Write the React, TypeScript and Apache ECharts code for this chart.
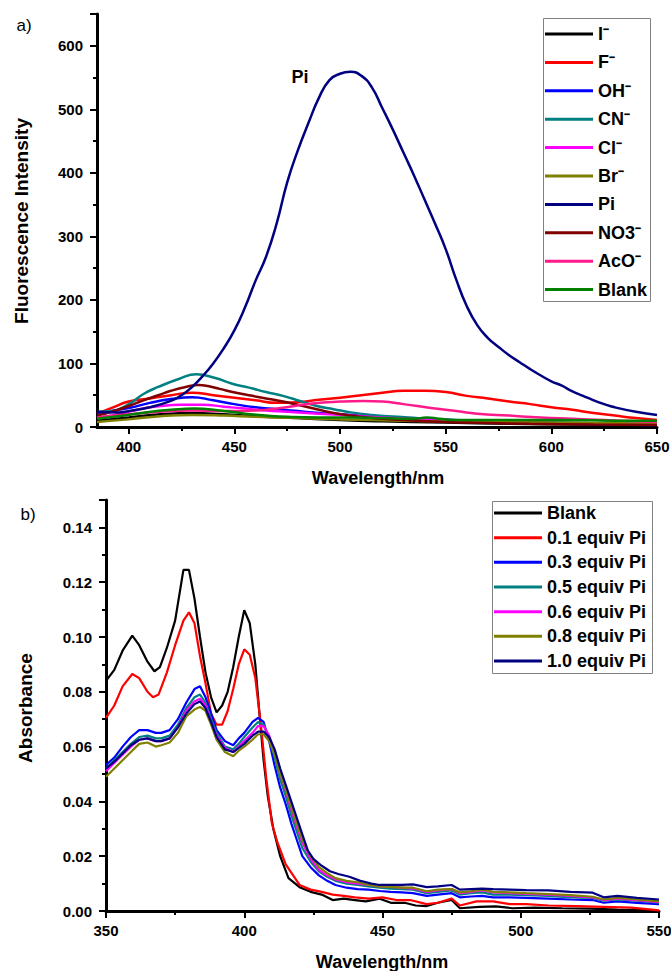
import React, { useEffect, useRef } from 'react';
import * as echarts from 'echarts';

// ---------- (a) Fluorescence data: [wavelength nm, intensity] ----------
const fluoNames = ['I⁻', 'F⁻', 'OH⁻', 'CN⁻', 'Cl⁻', 'Br⁻', 'Pi', 'NO3⁻', 'AcO⁻', 'Blank'];
const fluoColors = ['#000000', '#ff0000', '#0000ff', '#008080', '#ff00ff', '#808000', '#000080', '#800000', '#ff1a8c', '#008000'];

const fluoI = [[385, 10], [400, 15], [415, 20], [430, 22], [445, 20], [460, 17], [480, 14], [500, 11], [520, 9], [550, 7], [580, 5], [610, 4], [650, 3]];
const fluoF = [[385, 21], [392, 30], [400, 40], [410, 45], [420, 50], [430, 54], [440, 50], [450, 46], [460, 42], [470, 38], [480, 39], [490, 43], [500, 46], [510, 50], [520, 54], [530, 57], [540, 57], [550, 55], [560, 49], [570, 45], [580, 40], [590, 36], [600, 31], [610, 27], [620, 22], [630, 18], [640, 14], [650, 11]];
const fluoOH = [[385, 22], [400, 30], [410, 38], [420, 44], [430, 47], [440, 42], [450, 36], [460, 31], [470, 28], [480, 25], [490, 22], [500, 20], [520, 16], [540, 13], [560, 10], [580, 8], [600, 6], [625, 4], [650, 3]];
const fluoCN = [[385, 24], [392, 25], [400, 36], [407, 52], [414, 63], [424, 76], [432, 83], [441, 77], [449, 68], [457, 62], [465, 55], [473, 49], [481, 41], [489, 33], [497, 28], [505, 23], [515, 19], [527, 16], [540, 13], [560, 10], [590, 8], [620, 6], [650, 5]];
const fluoCl = [[385, 14], [395, 20], [405, 28], [415, 33], [425, 35], [435, 35], [445, 32], [455, 29], [465, 26], [475, 24], [490, 21], [505, 18], [520, 15], [540, 12], [560, 10], [590, 7], [620, 5], [650, 4]];
const fluoBr = [[385, 8], [400, 12], [415, 17], [430, 19], [445, 18], [460, 16], [480, 14], [500, 12], [530, 10], [560, 8], [600, 7], [650, 5]];
const fluoPi = [[385, 24], [395, 23], [400, 25], [410, 31], [420, 41], [425, 50], [430, 63], [435, 80], [440, 100], [445, 124], [450, 152], [455, 188], [460, 230], [465, 268], [470, 320], [475, 385], [480, 435], [485, 478], [490, 518], [495, 546], [500, 556], [505, 559], [510, 553], [515, 535], [520, 502], [525, 468], [530, 432], [535, 396], [540, 358], [545, 320], [550, 280], [555, 232], [560, 190], [565, 160], [570, 140], [575, 126], [580, 113], [585, 102], [590, 91], [595, 81], [600, 72], [605, 65], [610, 56], [615, 49], [620, 42], [625, 36], [630, 31], [640, 24], [650, 19]];
const fluoNO3 = [[385, 18], [392, 24], [400, 33], [408, 43], [414, 50], [420, 57], [427, 63], [433, 66], [438, 64], [443, 60], [452, 53], [460, 48], [465, 45], [473, 40], [481, 34], [489, 28], [497, 22], [505, 18], [520, 13], [540, 9], [560, 7], [590, 5], [620, 4], [650, 3]];
const fluoAcO = [[385, 15], [400, 20], [415, 24], [430, 26], [445, 25], [460, 26], [472, 30], [487, 37], [500, 40], [511, 41], [520, 40], [530, 36], [543, 30], [555, 25], [565, 21], [580, 18], [595, 15], [610, 13], [625, 11], [640, 9], [650, 8]];
const fluoBlank = [[385, 13], [395, 17], [408, 23], [420, 27], [431, 29], [443, 26], [455, 21], [465, 18], [475, 16], [490, 15], [503, 15], [520, 14], [535, 13], [541, 15], [547, 13], [555, 11], [580, 11], [606, 11], [630, 10], [650, 10]];
const fluoData = [fluoI, fluoF, fluoOH, fluoCN, fluoCl, fluoBr, fluoPi, fluoNO3, fluoAcO, fluoBlank];

const fluoXTicks = [400, 450, 500, 550, 600, 650];
const fluoXMinorTicks = [425, 475, 525, 575, 625];
const fluoYTicks = [0, 100, 200, 300, 400, 500, 600];

// ---------- (b) Absorbance data: [wavelength nm, absorbance] ----------
const absNames = ['Blank', '0.1 equiv Pi', '0.3 equiv Pi', '0.5 equiv Pi', '0.6 equiv Pi', '0.8 equiv Pi', '1.0 equiv Pi'];
const absColors = ['#000000', '#ff0000', '#0000ff', '#008080', '#ff00ff', '#808000', '#000080'];

const absBlank = [[350, 0.084], [353, 0.088], [356, 0.095], [359.5, 0.1005], [362, 0.097], [365, 0.091], [367.5, 0.0875], [369.5, 0.089], [372, 0.096], [375, 0.106], [378, 0.1245], [380, 0.1245], [382, 0.114], [384, 0.1], [386, 0.087], [388, 0.078], [390, 0.0725], [392, 0.075], [394, 0.08], [396, 0.089], [398, 0.1], [400, 0.1098], [402, 0.105], [404, 0.09], [405.5, 0.072], [407, 0.055], [408.5, 0.042], [410.5, 0.03], [413, 0.02], [416, 0.012], [420, 0.0087], [424, 0.007], [428, 0.006], [432, 0.004], [436, 0.0045], [440, 0.004], [444, 0.0035], [449, 0.0045], [453, 0.003], [458, 0.003], [462, 0.002], [466, 0.0018], [470, 0.003], [475, 0.004], [478, 0.001], [485, 0.0015], [491, 0.0017], [497, 0.001], [505, 0.0012], [515, 0.001], [525, 0.0009], [535, 0.0005], [545, 0.0003], [550, 0.0]];
const abs01 = [[350, 0.0705], [353, 0.075], [356, 0.082], [359.5, 0.0865], [362, 0.085], [365, 0.08], [367, 0.078], [369, 0.079], [372, 0.087], [375, 0.097], [378, 0.106], [380, 0.109], [382, 0.105], [384, 0.093], [386, 0.083], [388, 0.072], [390, 0.068], [392, 0.068], [394, 0.073], [396, 0.081], [398, 0.09], [400, 0.0955], [402, 0.0935], [404, 0.085], [406, 0.068], [408, 0.048], [410, 0.032], [412, 0.025], [415, 0.017], [420, 0.0095], [424, 0.0078], [428, 0.007], [432, 0.006], [436, 0.0055], [440, 0.005], [445, 0.0045], [450, 0.005], [455, 0.004], [460, 0.004], [466, 0.0025], [470, 0.003], [475, 0.0045], [478, 0.002], [484, 0.0035], [490, 0.0035], [496, 0.0025], [502, 0.0025], [510, 0.002], [520, 0.0018], [530, 0.0015], [540, 0.0012], [550, 0.0002]];
const abs03 = [[350, 0.0533], [353, 0.056], [356, 0.06], [359, 0.0635], [362, 0.066], [365, 0.066], [368, 0.065], [370, 0.065], [373, 0.066], [376, 0.07], [379, 0.076], [382, 0.081], [384, 0.082], [386, 0.078], [388, 0.072], [390, 0.066], [393, 0.062], [396, 0.0605], [398, 0.063], [400, 0.065], [403, 0.069], [405, 0.0705], [407, 0.069], [409, 0.062], [411, 0.053], [413, 0.045], [415, 0.039], [417, 0.032], [419, 0.026], [421, 0.02], [424, 0.016], [427, 0.013], [430, 0.011], [433, 0.0095], [437, 0.0085], [441, 0.008], [445, 0.0078], [449, 0.0073], [453, 0.007], [457, 0.0068], [461, 0.0065], [466, 0.0055], [470, 0.006], [475, 0.0065], [478, 0.005], [482, 0.0053], [486, 0.0055], [490, 0.005], [496, 0.005], [502, 0.0048], [510, 0.0045], [518, 0.0042], [526, 0.004], [530, 0.003], [535, 0.0035], [542, 0.003], [550, 0.0025]];
const abs05 = [[350, 0.052], [353, 0.055], [356, 0.058], [359, 0.061], [362, 0.0635], [365, 0.064], [368, 0.063], [370, 0.063], [373, 0.064], [376, 0.068], [379, 0.074], [382, 0.078], [384, 0.079], [386, 0.076], [388, 0.07], [390, 0.065], [393, 0.06], [396, 0.059], [398, 0.061], [400, 0.0635], [403, 0.067], [405, 0.069], [407, 0.068], [409, 0.063], [411, 0.056], [413, 0.048], [415, 0.042], [417, 0.035], [419, 0.029], [421, 0.023], [424, 0.018], [427, 0.0145], [430, 0.0125], [433, 0.011], [437, 0.01], [441, 0.0095], [445, 0.009], [449, 0.0085], [453, 0.0082], [457, 0.008], [461, 0.0078], [466, 0.0065], [470, 0.007], [475, 0.0075], [478, 0.006], [482, 0.0065], [486, 0.0068], [490, 0.006], [496, 0.006], [502, 0.0058], [510, 0.0055], [518, 0.005], [526, 0.0048], [530, 0.0038], [535, 0.0042], [542, 0.0038], [550, 0.003]];
const abs06 = [[350, 0.051], [353, 0.054], [356, 0.057], [359, 0.06], [362, 0.0625], [365, 0.063], [368, 0.062], [370, 0.062], [373, 0.063], [376, 0.067], [379, 0.073], [382, 0.0765], [384, 0.0775], [386, 0.075], [388, 0.069], [390, 0.064], [393, 0.0595], [396, 0.058], [398, 0.06], [400, 0.062], [403, 0.065], [405, 0.0675], [407, 0.0675], [409, 0.064], [411, 0.058], [413, 0.05], [415, 0.044], [417, 0.037], [419, 0.031], [421, 0.025], [424, 0.019], [427, 0.015], [430, 0.013], [433, 0.0115], [437, 0.0105], [441, 0.01], [445, 0.0095], [449, 0.009], [453, 0.0088], [457, 0.0085], [461, 0.0082], [466, 0.007], [470, 0.0075], [475, 0.008], [478, 0.0065], [482, 0.007], [486, 0.0075], [490, 0.0068], [496, 0.0065], [502, 0.0062], [510, 0.006], [518, 0.0055], [526, 0.005], [530, 0.004], [535, 0.0045], [542, 0.004], [550, 0.0032]];
const abs08 = [[350, 0.049], [353, 0.052], [356, 0.055], [359, 0.058], [362, 0.061], [365, 0.0615], [368, 0.06], [370, 0.0605], [373, 0.0615], [376, 0.065], [379, 0.071], [382, 0.0735], [384, 0.0745], [386, 0.073], [388, 0.068], [390, 0.0625], [393, 0.058], [396, 0.0565], [398, 0.0585], [400, 0.06], [403, 0.0625], [405, 0.0645], [407, 0.0645], [409, 0.062], [411, 0.057], [413, 0.05], [415, 0.0445], [417, 0.038], [419, 0.032], [421, 0.026], [424, 0.02], [427, 0.016], [430, 0.0138], [433, 0.012], [437, 0.011], [441, 0.0105], [445, 0.0095], [449, 0.009], [453, 0.0088], [457, 0.0085], [461, 0.0085], [466, 0.0072], [470, 0.0078], [475, 0.008], [478, 0.0068], [482, 0.0072], [486, 0.0078], [490, 0.007], [496, 0.0068], [502, 0.0065], [510, 0.0062], [518, 0.0058], [526, 0.0052], [530, 0.0042], [535, 0.0048], [542, 0.0042], [550, 0.0035]];
const abs10 = [[350, 0.052], [353, 0.0545], [356, 0.0575], [359, 0.0605], [362, 0.0625], [365, 0.063], [368, 0.062], [370, 0.062], [373, 0.063], [376, 0.067], [379, 0.072], [382, 0.0755], [384, 0.0765], [386, 0.074], [388, 0.069], [390, 0.0635], [393, 0.059], [396, 0.058], [398, 0.0595], [400, 0.061], [403, 0.064], [405, 0.0655], [407, 0.0655], [409, 0.0635], [411, 0.059], [413, 0.052], [415, 0.046], [417, 0.04], [419, 0.034], [421, 0.028], [423, 0.022], [425, 0.019], [428, 0.0165], [431, 0.0145], [434, 0.0135], [438, 0.0125], [442, 0.011], [446, 0.01], [449, 0.0095], [453, 0.0095], [457, 0.0095], [461, 0.0097], [466, 0.0087], [470, 0.009], [475, 0.0095], [478, 0.0078], [482, 0.008], [486, 0.0082], [490, 0.008], [496, 0.0078], [502, 0.0076], [510, 0.0075], [518, 0.007], [526, 0.0067], [530, 0.005], [535, 0.0055], [542, 0.0048], [550, 0.0042]];
const absData = [absBlank, abs01, abs03, abs05, abs06, abs08, abs10];

const absXTicks = [350, 400, 450, 500, 550];
const absYTicks = [0, 0.02, 0.04, 0.06, 0.08, 0.1, 0.12, 0.14];

const FONT = '"Liberation Sans", Arial, Helvetica, sans-serif';

export default function App() {
  const ref = useRef<HTMLDivElement>(null);

  useEffect(() => {
    if (!ref.current) return;
    const chart = echarts.init(ref.current, undefined, { renderer: 'svg' });

    const axisLine = { show: true, onZero: false, lineStyle: { color: '#000', width: 3 } };
    const tick = { show: true, length: 7, lineStyle: { color: '#000', width: 2 } };
    const minor = { show: true, splitNumber: 2, length: 4, lineStyle: { color: '#000', width: 2 } };
    const label = { color: '#000', fontSize: 15, fontWeight: 'bold' as const, fontFamily: FONT };

    const fluoSeries = fluoNames.map((name, i) => ({
      name,
      type: 'line',
      xAxisIndex: 0,
      yAxisIndex: 0,
      data: fluoData[i],
      smooth: 0.5,
      symbol: 'none',
      z: name === 'Pi' ? 4 : 2,
      lineStyle: { color: fluoColors[i], width: 2.5 },
      itemStyle: { color: fluoColors[i] },
    }));

    const absSeries = absNames.map((name, i) => ({
      name: 'b:' + name,
      type: 'line',
      xAxisIndex: 1,
      yAxisIndex: 1,
      data: absData[i],
      symbol: 'none',
      lineStyle: { color: absColors[i], width: 2.2 },
      itemStyle: { color: absColors[i] },
    }));

    const legendText = { color: '#000', fontSize: 18, fontWeight: 'bold' as const, fontFamily: FONT, lineHeight: 20 };

    const textEl = (text: string, x: number, y: number, size: number, bold: boolean, rot = 0) => ({
      type: 'text',
      x,
      y,
      rotation: rot,
      style: {
        text,
        fill: '#000',
        fontSize: size,
        fontWeight: bold ? 'bold' : 'normal',
        fontFamily: FONT,
        align: 'center',
        verticalAlign: 'middle',
        textAlign: 'center',
        textVerticalAlign: 'middle',
      },
    });

    chart.setOption({
      animation: false,
      backgroundColor: '#fff',
      grid: [
        { left: 97, top: 14, width: 560, height: 413, outerBoundsMode: 'none' },
        { left: 106, top: 500, width: 553, height: 411, outerBoundsMode: 'none' },
        { left: 97, top: 14, width: 560, height: 413, outerBoundsMode: 'none' },
      ],
      xAxis: [
        {
          gridIndex: 0, type: 'value', min: 385, max: 650,
          axisLine, splitLine: { show: false },
          axisTick: { ...tick, customValues: fluoXTicks },
          axisLabel: { ...label, margin: 12, customValues: fluoXTicks },
        },
        {
          gridIndex: 1, type: 'value', min: 350, max: 550, interval: 50,
          axisLine, splitLine: { show: false },
          axisTick: tick, minorTick: minor,
          axisLabel: { ...label, margin: 12, customValues: absXTicks },
        },
        {
          gridIndex: 2, type: 'value', min: 385, max: 650,
          axisLine: { show: false }, splitLine: { show: false },
          axisTick: { show: true, length: 4, lineStyle: { color: '#000', width: 2 }, customValues: fluoXMinorTicks },
          axisLabel: { show: false },
        },
      ],
      yAxis: [
        {
          gridIndex: 0, type: 'value', min: 0, max: 650, interval: 100,
          axisLine, splitLine: { show: false },
          axisTick: tick, minorTick: minor,
          axisLabel: { ...label, margin: 14, customValues: fluoYTicks },
        },
        {
          gridIndex: 1, type: 'value', min: 0, max: 0.15, interval: 0.02,
          axisLine, splitLine: { show: false },
          axisTick: tick, minorTick: minor,
          axisLabel: { ...label, margin: 14, customValues: absYTicks, formatter: (v: number) => v.toFixed(2) },
        },
        { gridIndex: 2, type: 'value', min: 0, max: 650, show: false },
      ],
      legend: [
        {
          data: fluoNames,
          orient: 'vertical',
          left: 545,
          top: 24,
          padding: 0,
          icon: 'rect',
          itemWidth: 48,
          itemHeight: 3,
          itemGap: 8.4,
          selectedMode: false,
          textStyle: legendText,
        },
        {
          data: absNames.map((n) => 'b:' + n),
          formatter: (n: string) => n.replace(/^b:/, ''),
          orient: 'vertical',
          left: 494,
          top: 503,
          padding: 0,
          icon: 'rect',
          itemWidth: 48,
          itemHeight: 3,
          itemGap: 4.67,
          selectedMode: false,
          textStyle: legendText,
        },
      ],
      graphic: [
        { type: 'rect', shape: { x: 543.5, y: 18.5, width: 107, height: 283 }, style: { fill: 'none', stroke: '#808080', lineWidth: 1 }, z: 10 },
        { type: 'rect', shape: { x: 492.5, y: 501.5, width: 160, height: 172 }, style: { fill: 'none', stroke: '#808080', lineWidth: 1 }, z: 10 },
        textEl('a)', 24, 25, 17, false),
        textEl('b)', 28, 514, 17, false),
        textEl('Pi', 300, 77, 18, true),
        textEl('Fluorescence Intensity', 21, 221, 19, true, Math.PI / 2),
        textEl('Wavelength/nm', 378, 478, 18, true),
        textEl('Absorbance', 25, 708, 19, true, Math.PI / 2),
        textEl('Wavelength/nm', 382, 962, 18, true),
      ],
      series: [...fluoSeries, ...absSeries],
    });

    return () => chart.dispose();
  }, []);

  return (
    <div
      ref={ref}
      style={{ position: 'absolute', left: 0, top: 0, width: 671, height: 971, background: '#fff' }}
    />
  );
}
